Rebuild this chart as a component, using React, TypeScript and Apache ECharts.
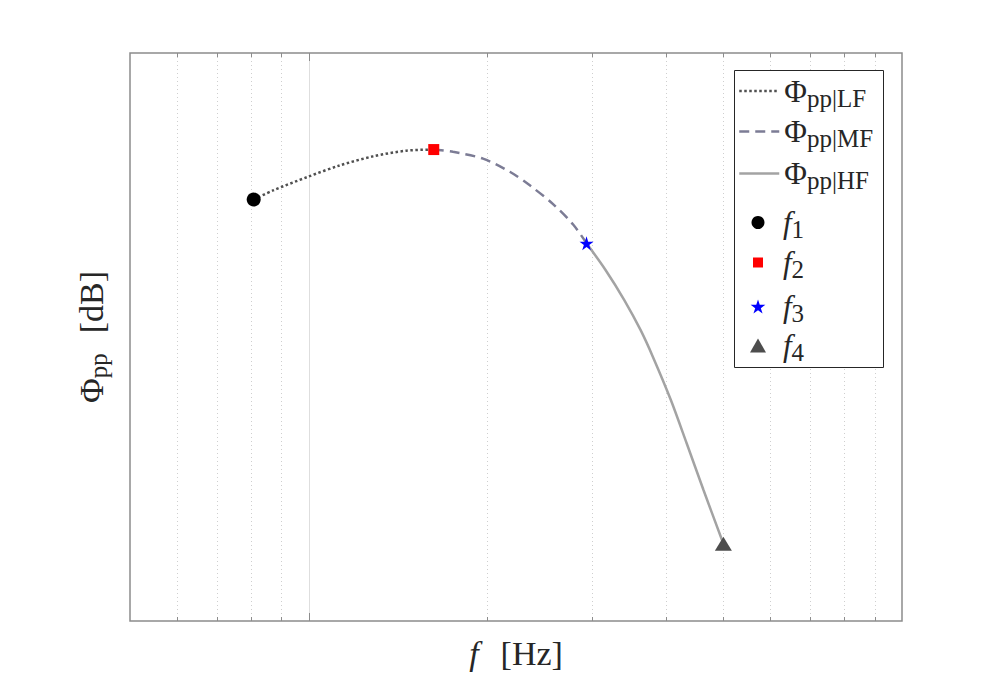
import React, { useEffect, useRef } from 'react';
import * as echarts from 'echarts';

// ---- data ----
const lfFreq = [80.8, 87.1, 99.7, 112.8, 128.4, 146.1, 162.5];
const lfLevel = [74.2, 75.8, 78.2, 80.2, 81.8, 82.8, 83.0];
const mfFreq = [162.5, 175.1, 196.7, 218.3, 235.9, 258.2, 279.1, 294];
const mfLevel = [83.0, 82.6, 81.4, 79.1, 76.7, 73.4, 69.8, 66.5];
const hfFreq = [294, 316.5, 340.4, 362.7, 380.4, 407.5, 433.6, 462.7, 500];
const hfLevel = [66.5, 61.8, 56.5, 51.2, 46.5, 39.0, 31.3, 23.1, 13.6];
const markerFreq = [80.8, 162.5, 294, 500];
const markerLevel = [74.2, 83.0, 66.5, 13.6];
const gridFreq = [60, 70, 80, 90, 100, 200, 300, 400, 500, 600, 700, 800, 900];
const majorFreq = [100];
const xMin = 50;
const xMax = 1000;
const yMin = 0;
const yMax = 100;

const FONT = "'Liberation Serif', 'Times New Roman', serif";
const TXT = '#262626';
const AX = '#8c8c8c';
const NONE = 'rgba(0,0,0,0)';

const zip = (a: number[], b: number[]) => a.map((v, i) => [v, b[i]]);

const STAR =
  'path://M0,-1L0.2245,-0.309L0.951,-0.309L0.363,0.118L0.588,0.809L0,0.382L-0.588,0.809L-0.363,0.118L-0.951,-0.309L-0.2245,-0.309Z';
const SQUARE = 'path://M0,0L10,0L10,10L0,10Z';
const TRI = 'path://M0,14L8,0L16,14Z';

const richLegend = {
  phi: { fontFamily: FONT, fontSize: 31, lineHeight: 30, color: TXT },
  sub: { fontFamily: FONT, fontSize: 25, lineHeight: 30, color: TXT, padding: [14, 0, 0, 0] },
  fi: { fontFamily: FONT, fontSize: 31, lineHeight: 30, color: TXT, fontStyle: 'italic' },
};

const legendLabel = (name: string) => {
  if (name.startsWith('f')) return `{fi|f}{sub|${name.slice(1)}}`;
  return `{phi|Φ}{sub|pp|${name}}`;
};

// one legend per row so each marker keeps its own size
const rowLegend = (name: string, top: number, iconW: number, h: number, icon?: string) => ({
  data: [icon ? { name, icon } : { name }],
  orient: 'vertical',
  left: 758 - iconW / 2,
  top,
  padding: 0,
  itemWidth: 40,
  itemHeight: h,
  selectedMode: false,
  z: 10,
  lineStyle: { width: 2.5 },
  formatter: legendLabel,
  textStyle: { rich: richLegend, fontFamily: FONT, fontSize: 31, color: TXT },
});

export default function App() {
  const ref = useRef<HTMLDivElement>(null);
  useEffect(() => {
    if (!ref.current) return;
    const chart = echarts.init(ref.current, undefined, { renderer: 'svg' });
    const option: any = {
      animation: false,
      backgroundColor: '#ffffff',
      grid: {
        left: 130,
        top: 53,
        right: 95,
        bottom: 77,
        show: true,
        borderColor: AX,
        borderWidth: 1.5,
        backgroundColor: '#ffffff',
      },
      xAxis: {
        type: 'log',
        logBase: 10,
        min: xMin,
        max: xMax,
        axisLine: { show: false },
        axisTick: { show: false },
        axisLabel: { show: false },
        splitLine: { show: false },
        name: '{fi|f}{r|[Hz]}',
        nameLocation: 'middle',
        nameGap: 15,
        nameTextStyle: {
          fontFamily: FONT,
          fontSize: 34,
          color: TXT,
          rich: {
            fi: { fontFamily: FONT, fontSize: 34, fontStyle: 'italic', color: TXT, padding: [0, 22, 0, 0] },
            r: { fontFamily: FONT, fontSize: 34, color: TXT },
          },
        },
      },
      yAxis: {
        type: 'value',
        min: yMin,
        max: yMax,
        axisLine: { show: false },
        axisTick: { show: false },
        axisLabel: { show: false },
        splitLine: { show: false },
        name: '{phi|Φ}{sub|pp}{r|[dB]}',
        nameLocation: 'middle',
        nameGap: 19,
        nameTextStyle: {
          fontFamily: FONT,
          fontSize: 34,
          color: TXT,
          rich: {
            phi: { fontFamily: FONT, fontSize: 34, color: TXT },
            sub: { fontFamily: FONT, fontSize: 25, color: TXT, padding: [14, 20, 0, 0] },
            r: { fontFamily: FONT, fontSize: 34, color: TXT },
          },
        },
      },
      legend: [
        rowLegend('LF', 71.5, 40, 14),
        rowLegend('MF', 112, 40, 14),
        rowLegend('HF', 154, 40, 14),
        rowLegend('f1', 203, 13, 13, 'circle'),
        rowLegend('f2', 243, 10, 10, SQUARE),
        rowLegend('f3', 287, 14.7, 14, STAR),
        rowLegend('f4', 326, 16, 14, TRI),
      ],
      graphic: [
        {
          type: 'rect',
          left: 734,
          top: 70,
          shape: { width: 149, height: 297 },
          style: { fill: '#ffffff', stroke: TXT, lineWidth: 1 },
          z: 2,
        },
      ],
      series: [
        {
          type: 'custom',
          name: 'grid',
          silent: true,
          z: 1,
          data: gridFreq.map((f) => [f, yMin]),
          renderItem: (params: any, api: any) => {
            const f = api.value(0);
            const x = Math.round(api.coord([f, yMin])[0]) + 0.5;
            const cs = params.coordSys;
            const major = majorFreq.includes(f);
            const tl = major ? 8 : 4;
            return {
              type: 'group',
              children: [
                {
                  type: 'line',
                  shape: { x1: x, y1: cs.y, x2: x, y2: cs.y + cs.height },
                  style: major
                    ? { stroke: '#dedede', lineWidth: 1 }
                    : { stroke: '#cfcfcf', lineWidth: 1, lineDash: [1, 3] },
                },
                {
                  type: 'line',
                  shape: { x1: x, y1: cs.y + cs.height, x2: x, y2: cs.y + cs.height - tl },
                  style: { stroke: AX, lineWidth: 1 },
                },
                {
                  type: 'line',
                  shape: { x1: x, y1: cs.y, x2: x, y2: cs.y + tl },
                  style: { stroke: AX, lineWidth: 1 },
                },
              ],
            };
          },
        },
        {
          type: 'line',
          name: 'LF',
          data: zip(lfFreq, lfLevel),
          smooth: 0.3,
          symbol: 'none',
          z: 3,
          lineStyle: { color: '#505050', width: 2.5, type: [2.5, 2.5] },
          itemStyle: { color: NONE },
        },
        {
          type: 'line',
          name: 'MF',
          data: zip(mfFreq, mfLevel),
          smooth: 0.3,
          symbol: 'none',
          z: 3,
          lineStyle: { color: '#7c7c95', width: 2.5, type: [10, 6] },
          itemStyle: { color: NONE },
        },
        {
          type: 'line',
          name: 'HF',
          data: zip(hfFreq, hfLevel),
          smooth: 0.3,
          symbol: 'none',
          z: 3,
          lineStyle: { color: '#a3a3a3', width: 2.5, type: 'solid' },
          itemStyle: { color: NONE },
        },
        {
          type: 'scatter',
          name: 'f1',
          data: [[markerFreq[0], markerLevel[0]]],
          symbol: 'circle',
          symbolSize: 14,
          z: 4,
          itemStyle: { color: '#000000', opacity: 1 },
        },
        {
          type: 'scatter',
          name: 'f2',
          data: [[markerFreq[1], markerLevel[1]]],
          symbol: 'rect',
          symbolSize: 11,
          z: 4,
          itemStyle: { color: '#ff0000', opacity: 1 },
        },
        {
          type: 'scatter',
          name: 'f3',
          data: [[markerFreq[2], markerLevel[2]]],
          symbol: STAR,
          symbolSize: 14,
          z: 4,
          itemStyle: { color: '#0000ff', opacity: 1 },
        },
        {
          type: 'scatter',
          name: 'f4',
          data: [[markerFreq[3], markerLevel[3]]],
          symbol: 'triangle',
          symbolSize: [17, 14],
          z: 4,
          itemStyle: { color: '#4d4d4d', opacity: 1 },
        },
      ],
    };
    chart.setOption(option);
    return () => chart.dispose();
  }, []);
  return (
    <div
      ref={ref}
      style={{ position: 'fixed', left: 0, top: 0, width: 997, height: 698 }}
    />
  );
}
